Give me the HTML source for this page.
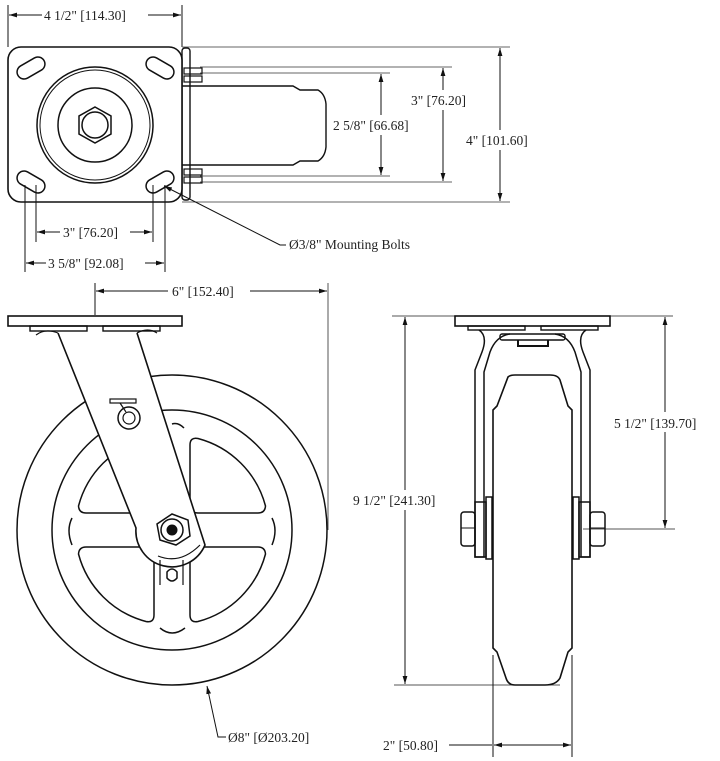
<!DOCTYPE html>
<html><head><meta charset="utf-8"><style>
html,body{margin:0;padding:0;background:#fff}
svg{display:block}
text{font-family:"Liberation Serif",serif;font-size:13.5px;fill:#222}
</style></head><body>
<svg width="720" height="761" viewBox="0 0 720 761" xmlns="http://www.w3.org/2000/svg">
<defs>
<marker id="a" viewBox="0 0 10 10" refX="10" refY="5" markerWidth="8" markerHeight="8" orient="auto-start-reverse" markerUnits="userSpaceOnUse"><path d="M0,2 L10,5 L0,8 z" fill="#111"/></marker>
</defs>
<g fill="none" stroke="#111" stroke-width="1">
<!-- ===== TOP VIEW ===== -->
<line x1="8" y1="5" x2="8" y2="47"/><line x1="182" y1="5" x2="182" y2="47"/>
<line x1="182" y1="47" x2="510" y2="47" stroke="#666"/>
<line x1="200" y1="67" x2="452" y2="67" stroke="#666"/>
<line x1="200" y1="73" x2="390" y2="73" stroke="#666"/>
<line x1="200" y1="176" x2="390" y2="176" stroke="#666"/>
<line x1="200" y1="182" x2="452" y2="182" stroke="#666"/>
<line x1="182" y1="202" x2="510" y2="202" stroke="#666"/>
<path d="M182,86 H293 L300,90 H318 Q325,94 326,104 V147 Q325,157 318,161 H300 L293,165 H182" stroke-width="1.4"/>
<rect x="182" y="48" width="8" height="152" rx="3" stroke-width="1.4"/>
<rect x="184" y="68" width="18" height="6" stroke-width="1.2"/>
<rect x="184" y="76" width="18" height="6" stroke-width="1.2"/>
<rect x="184" y="169" width="18" height="6" stroke-width="1.2"/>
<rect x="184" y="177" width="18" height="6" stroke-width="1.2"/>
<rect x="8" y="47" width="174" height="155" rx="13" fill="#fff" stroke-width="1.6"/>
<rect x="16" y="61" width="30" height="14" rx="7" transform="rotate(-30 31 68)" stroke-width="1.5"/>
<rect x="16" y="175" width="30" height="14" rx="7" transform="rotate(30 31 182)" stroke-width="1.5"/>
<rect x="145" y="61" width="30" height="14" rx="7" transform="rotate(30 160 68)" stroke-width="1.5"/>
<rect x="145" y="175" width="30" height="14" rx="7" transform="rotate(-30 160 182)" stroke-width="1.5"/>
<circle cx="95" cy="125" r="58" stroke-width="1.5"/>
<circle cx="95" cy="125" r="55" stroke-width="1"/>
<circle cx="95" cy="125" r="37" stroke-width="1.5"/>
<polygon points="95,107 111,116 111,134 95,143 79,134 79,116" stroke-width="1.5"/>
<circle cx="95" cy="125" r="13" stroke-width="1.5"/>
<line x1="9" y1="15" x2="42" y2="15" marker-start="url(#a)"/>
<line x1="148" y1="15" x2="181" y2="15" marker-end="url(#a)"/>
<line x1="443" y1="68" x2="443" y2="90" marker-start="url(#a)"/>
<line x1="443" y1="110" x2="443" y2="181" marker-end="url(#a)"/>
<line x1="381" y1="74" x2="381" y2="115" marker-start="url(#a)"/>
<line x1="381" y1="135" x2="381" y2="175" marker-end="url(#a)"/>
<line x1="500" y1="48" x2="500" y2="130" marker-start="url(#a)"/>
<line x1="500" y1="150" x2="500" y2="201" marker-end="url(#a)"/>
<line x1="36" y1="185" x2="36" y2="242"/><line x1="153" y1="185" x2="153" y2="242"/>
<line x1="25" y1="185" x2="25" y2="272"/><line x1="165" y1="185" x2="165" y2="272"/>
<line x1="37" y1="232" x2="60" y2="232" marker-start="url(#a)"/>
<line x1="130" y1="232" x2="152" y2="232" marker-end="url(#a)"/>
<line x1="26" y1="263" x2="46" y2="263" marker-start="url(#a)"/>
<line x1="145" y1="263" x2="164" y2="263" marker-end="url(#a)"/>
<polyline points="286,245 280,245 164,186" marker-end="url(#a)"/>
<!-- ===== SIDE VIEW ===== -->
<line x1="95" y1="283" x2="95" y2="315"/>
<line x1="328" y1="283" x2="328" y2="530" stroke="#555"/>
<line x1="96" y1="291" x2="168" y2="291" marker-start="url(#a)"/>
<line x1="250" y1="291" x2="327" y2="291" marker-end="url(#a)"/>
<circle cx="172" cy="530" r="155" stroke-width="1.5"/>
<circle cx="172" cy="530" r="120" stroke-width="1.5"/>
<!-- spoke windows (r=95 arcs) -->
<g stroke-width="1.5">
<path d="M190,445 V505 Q190,513 198,513 H258 Q265,513 265.5,506 A95,95 0 0 0 198,438.5 Q190,437 190,445 Z"/>
<path d="M154,445 V505 Q154,513 146,513 H86 Q79,513 78.5,506 A95,95 0 0 1 146,438.5 Q154,437 154,445 Z"/>
<path d="M190,615 V555 Q190,547 198,547 H258 Q265,547 265.5,554 A95,95 0 0 1 198,621.5 Q190,623 190,615 Z"/>
<path d="M154,615 V555 Q154,547 146,547 H86 Q79,547 78.5,554 A95,95 0 0 0 146,621.5 Q154,623 154,615 Z"/>
</g>
<path d="M72,518 Q66,530 72,545" stroke-width="1.5"/>
<path d="M272,518 Q278,530 272,545" stroke-width="1.5"/>
<path d="M160,628 Q172,638 185,628" stroke-width="1.5"/>
<path d="M172,424 Q178,422 184,428" stroke-width="1.5"/>
<rect x="8" y="316" width="174" height="10" stroke-width="1.6" fill="#fff"/>
<rect x="30" y="326" width="57" height="5" stroke-width="1.4"/>
<rect x="103" y="326" width="57" height="5" stroke-width="1.4"/>
<path d="M58,333 L136,528 A36,36 0 0 0 205,545 L137,333" fill="#fff" stroke-width="1.6"/>
<path d="M36,335 Q45,328 58,333 M137,333 Q148,327 157,333" stroke-width="1.2"/>
<path d="M158,556 Q180,565 200,545" stroke-width="1.2"/>
<polygon points="172,514 188,520 190,536 176,545 160,540 157,524" stroke-width="1.5" fill="#fff"/>
<circle cx="172" cy="530" r="11" stroke-width="1.5"/>
<circle cx="172" cy="530" r="5" fill="#111"/>
<path d="M160,560 V585 M183,560 V585" stroke-width="1.2"/>
<path d="M167,572 Q172,566 177,572 V578 Q172,584 167,578 Z" stroke-width="1.5"/>
<rect x="110" y="399" width="26" height="4" stroke-width="1.2"/>
<circle cx="129" cy="418" r="11" stroke-width="1.5"/>
<circle cx="129" cy="418" r="6" stroke-width="1.2"/>
<path d="M120,403 L126,412" stroke-width="1.2"/>
<polyline points="226,737 218,737 207,686" marker-end="url(#a)"/>
<!-- ===== FRONT VIEW ===== -->
<line x1="392" y1="316" x2="455" y2="316" stroke="#555"/>
<line x1="610" y1="316" x2="673" y2="316" stroke="#555"/>
<line x1="394" y1="685" x2="560" y2="685" stroke="#555"/>
<line x1="583" y1="529" x2="675" y2="529" stroke="#555"/>
<line x1="405" y1="317" x2="405" y2="490" marker-start="url(#a)"/>
<line x1="405" y1="510" x2="405" y2="684" marker-end="url(#a)"/>
<line x1="665" y1="317" x2="665" y2="412" marker-start="url(#a)"/>
<line x1="665" y1="432" x2="665" y2="528" marker-end="url(#a)"/>
<line x1="493" y1="655" x2="493" y2="757"/><line x1="572" y1="655" x2="572" y2="757"/>
<line x1="449" y1="745" x2="492" y2="745"/>
<line x1="494" y1="745" x2="571" y2="745" marker-start="url(#a)" marker-end="url(#a)"/>
<rect x="455" y="316" width="155" height="10" stroke-width="1.6"/>
<rect x="468" y="326" width="57" height="4" stroke-width="1.4"/>
<rect x="541" y="326" width="57" height="4" stroke-width="1.4"/>
<path d="M479,330 Q488,336 482,352 L475,370 V557 H484 V372 L490,352 Q496,336 510,334" stroke-width="1.5"/>
<path d="M586,330 Q577,336 583,352 L590,370 V557 H581 V372 L575,352 Q569,336 555,334" stroke-width="1.5"/>
<rect x="500" y="334" width="65" height="6" rx="2" stroke-width="1.4"/>
<path d="M518,340 V346 H548 V340" stroke-width="2"/>
<path d="M508,377 Q510,375 515,375 H550 Q558,375 560,380 L568,406 L572,410 V648 L568,652 L560,678 Q556,685 545,685 H515 Q508,685 506,678 L497,652 L493,648 V410 L497,406 Z" stroke-width="1.6" fill="#fff"/>
<rect x="475" y="502" width="11" height="55" stroke-width="1.5"/>
<rect x="486" y="497" width="6" height="62" stroke-width="1.5"/>
<rect x="461" y="512" width="14" height="34" rx="3" stroke-width="1.5"/>
<line x1="461" y1="528" x2="475" y2="528"/>
<rect x="579" y="502" width="11" height="55" stroke-width="1.5"/>
<rect x="573" y="497" width="6" height="62" stroke-width="1.5"/>
<rect x="590" y="512" width="15" height="34" rx="3" stroke-width="1.5"/>
<line x1="590" y1="528" x2="605" y2="528"/>
</g>
<text x="44" y="20">4 1/2" [114.30]</text>
<text x="411" y="105">3" [76.20]</text>
<text x="333" y="130">2 5/8" [66.68]</text>
<text x="466" y="145">4" [101.60]</text>
<text x="63" y="237">3" [76.20]</text>
<text x="48" y="268">3 5/8" [92.08]</text>
<text x="289" y="249">Ø3/8" Mounting Bolts</text>
<text x="172" y="296">6" [152.40]</text>
<text x="228" y="742">Ø8" [Ø203.20]</text>
<text x="353" y="505">9 1/2" [241.30]</text>
<text x="614" y="428">5 1/2" [139.70]</text>
<text x="383" y="750">2" [50.80]</text>
</svg>
</body></html>
